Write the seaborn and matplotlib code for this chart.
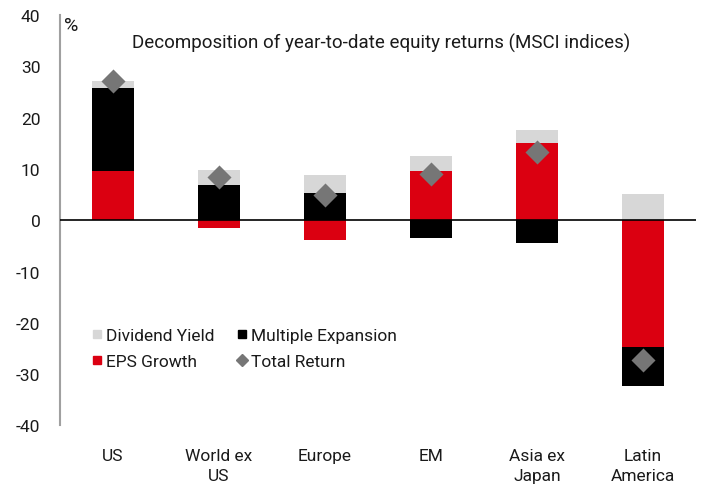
import numpy as np
import pandas as pd
import matplotlib
matplotlib.use("Agg")
import matplotlib.pyplot as plt
import seaborn as sns
from matplotlib.lines import Line2D

# ------------------------------------------------------------------
# DATA (% YTD)
# ------------------------------------------------------------------
regions = ["US", "World ex\nUS", "Europe", "EM", "Asia ex\nJapan", "Latin\nAmerica"]
eps_growth = [9.6, -1.6, -3.9, 9.6, 15.0, -24.7]
multiple_expansion = [16.1, 6.8, 5.3, -3.5, -4.5, -7.7]
dividend_yield = [1.4, 3.1, 3.5, 2.9, 2.6, 5.1]
total_return = [27.1, 8.4, 4.9, 9.0, 13.3, -27.3]

RED = "#DB0011"
BLACK = "#000000"
GREY = "#D7D7D7"
DIAMOND = "#767676"
TXT = "#1A1A1A"

sns.set_theme(style="white")
plt.rcParams["font.family"] = ["Roboto", "DejaVu Sans"]
plt.rcParams["axes.unicode_minus"] = False

# stacking: positives go up from 0, negatives go down from 0
series = [("EPS Growth", eps_growth, RED),
          ("Multiple Expansion", multiple_expansion, BLACK),
          ("Dividend Yield", dividend_yield, GREY)]
pos_base = np.zeros(len(regions))
neg_base = np.zeros(len(regions))

fig, ax = plt.subplots(figsize=(7.03, 4.89), dpi=100)

for name, vals, col in series:
    vals = np.array(vals)
    bottom = np.where(vals >= 0, pos_base, neg_base)
    df = pd.DataFrame({"region": regions, "value": vals})
    sns.barplot(data=df, x="region", y="value", color=col, width=0.4,
                bottom=bottom, saturation=1, linewidth=0, ax=ax)
    pos_base = pos_base + np.where(vals >= 0, vals, 0)
    neg_base = neg_base + np.where(vals < 0, vals, 0)

tr = pd.DataFrame({"region": regions, "value": total_return})
sns.scatterplot(data=tr, x="region", y="value", marker="D", s=150,
                color=DIAMOND, linewidth=0, ax=ax, zorder=5)

ax.axhline(0, color="black", linewidth=1.2, zorder=4)
ax.set_xlim(-0.5, 5.5)
ax.set_ylim(-40, 40)
ax.set_yticks(range(-40, 41, 10))
ax.set_xlabel("")
ax.set_ylabel("")
ax.tick_params(axis="both", length=0, labelsize=12.5, colors=TXT)
ax.tick_params(axis="y", pad=14)
ax.tick_params(axis="x", pad=16)
for lab in ax.get_xticklabels():
    lab.set_linespacing(1.45)
for s in ["top", "right", "bottom"]:
    ax.spines[s].set_visible(False)
ax.spines["left"].set_color("#A0A0A0")
ax.spines["left"].set_linewidth(1.5)

ax.text(0.007, 0.998, "%", transform=ax.transAxes, fontsize=14, va="top",
        ha="left", color=TXT)
ax.text(0.505, 0.958, "Decomposition of year-to-date equity returns (MSCI indices)",
        transform=ax.transAxes, fontsize=13.5, va="top", ha="center", color=TXT)

handles = [
    Line2D([], [], marker="s", color=GREY, linestyle="", markersize=6),
    Line2D([], [], marker="s", color=RED, linestyle="", markersize=6),
    Line2D([], [], marker="s", color=BLACK, linestyle="", markersize=6),
    Line2D([], [], marker="D", color=DIAMOND, linestyle="", markersize=6),
]
labels = ["Dividend Yield", "EPS Growth", "Multiple Expansion", "Total Return"]
leg = ax.legend(handles, labels, ncol=2, frameon=False, fontsize=12.5,
                loc="upper left", bbox_to_anchor=(0.041, 0.255),
                handlelength=0.45, handletextpad=0.3, columnspacing=1.35,
                labelspacing=0.62, borderaxespad=0)
for t in leg.get_texts():
    t.set_color(TXT)

fig.subplots_adjust(left=0.085, right=0.99, top=0.967, bottom=0.128)
fig.savefig("out.png", dpi=100)
